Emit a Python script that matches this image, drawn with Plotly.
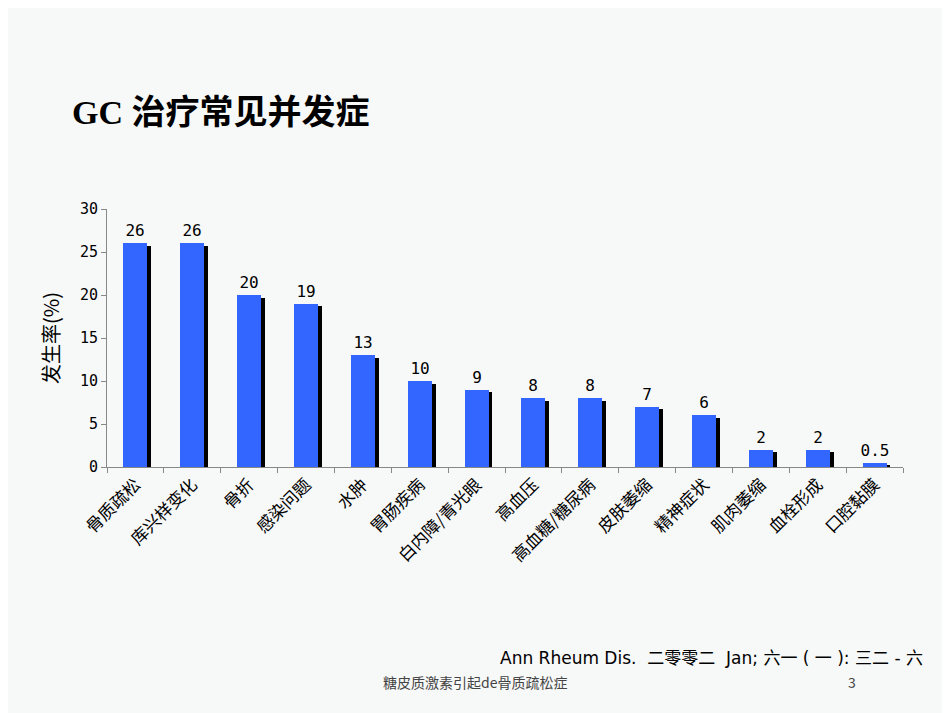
import plotly.graph_objects as go

categories = ["骨质疏松", "库兴样变化", "骨折", "感染问题", "水肿", "胃肠疾病", "白内障/青光眼",
              "高血压", "高血糖/糖尿病", "皮肤萎缩", "精神症状", "肌肉萎缩", "血栓形成", "口腔黏膜"]
values = [26, 26, 20, 19, 13, 10, 9, 8, 8, 7, 6, 2, 2, 0.5]
value_labels = ["26", "26", "20", "19", "13", "10", "9", "8", "8", "7", "6", "2", "2", "0.5"]

# page has an 8px body margin, so shift everything up/left by that
L, T, R, B = 99, 201, 55, 254
PW, PH = 950 - L - R, 713 - T - B


def px(x, y):
    return (x - 8 - L) / PW, 1 - (y - 8 - T) / PH


fig = go.Figure()
# black drop shadow behind each bar
fig.add_trace(go.Bar(
    x=categories, y=[v - 0.3 for v in values], width=0.42, offset=-0.14,
    marker=dict(color="black", line=dict(width=0)), hoverinfo="skip", showlegend=False,
))
fig.add_trace(go.Bar(
    x=categories, y=values, width=0.42, offset=-0.21,
    marker=dict(color="#3366FF", line=dict(width=0)),
    text=value_labels, textposition="outside", cliponaxis=False, constraintext="none",
    textfont=dict(family="DejaVu Sans Mono", size=16, color="black"),
    showlegend=False,
))

anns = []
for text, x, y, anchor, font in [
    ("<b>GC 治疗常见并发症</b>", 70, 112, "left",
     dict(size=34, family="Liberation Serif, Noto Sans CJK SC")),
    ("Ann Rheum Dis.  二零零二  Jan; 六一 ( 一 ): 三二 - 六", 498, 658, "left",
     dict(size=17, family="DejaVu Sans, Noto Sans CJK SC")),
    ("糖皮质激素引起de骨质疏松症", 475, 682, "center",
     dict(size=14, color="#444", family="Noto Sans CJK SC")),
    ("3", 852, 682, "center", dict(size=14, color="#444")),
]:
    ax, ay = px(x, y)
    anns.append(dict(text=text, x=ax, y=ay, xref="paper", yref="paper", showarrow=False,
                     xanchor=anchor, yanchor="middle", font=font))

fig.update_layout(
    width=950, height=713,
    paper_bgcolor="#F7F8F8", plot_bgcolor="#F7F8F8",
    margin=dict(l=L, r=R, t=T, b=B),
    barmode="overlay", bargap=0,
    font=dict(family="Noto Sans CJK SC", color="black"),
    xaxis=dict(
        range=[-0.5, 13.5], tickangle=-45, tickfont=dict(size=17), showgrid=False,
        showline=True, linecolor="#888", ticks="outside", tickson="boundaries",
        ticklen=5, tickcolor="#888",
    ),
    yaxis=dict(
        range=[0, 30], dtick=5, showgrid=False, zeroline=False,
        showline=True, linecolor="#888", ticks="outside", ticklen=5, tickcolor="#888",
        tickfont=dict(family="DejaVu Sans Mono", size=15),
        title=dict(text="发生率(%)", font=dict(size=20), standoff=14),
    ),
    annotations=anns,
)

fig.write_html("out.html")
